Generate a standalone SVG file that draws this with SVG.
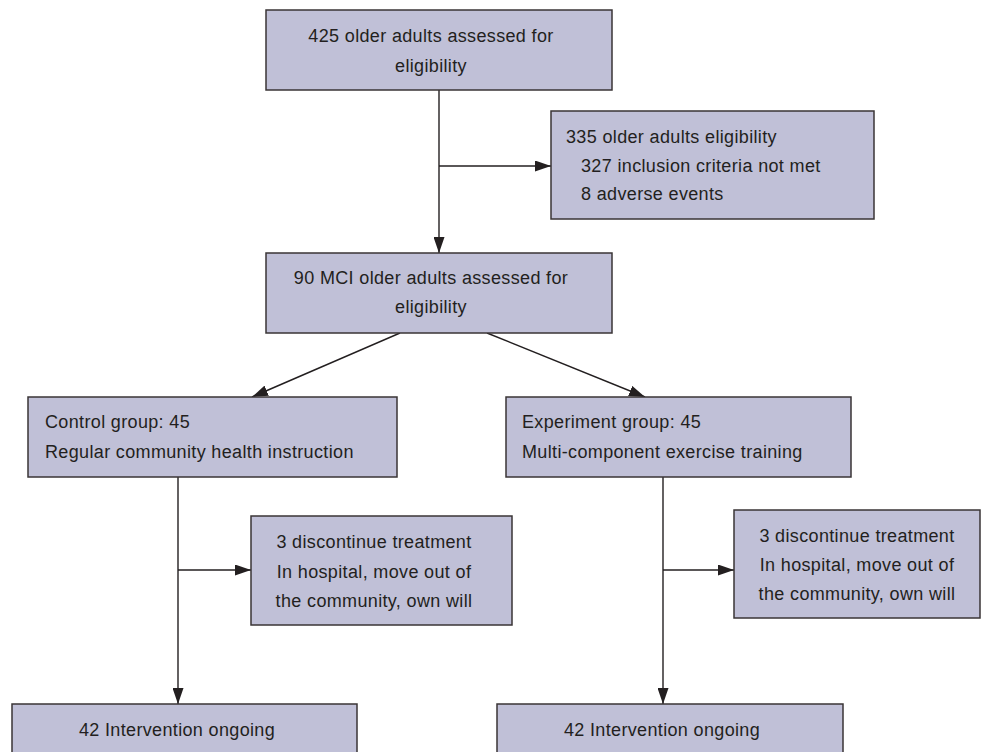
<svg xmlns="http://www.w3.org/2000/svg" width="982" height="752" viewBox="0 0 982 752">
<style>
.box{fill:#c0c0d7;stroke:#3a3536;stroke-width:1.5}
.t{font-family:"Liberation Sans",Arial,sans-serif;font-size:18px;letter-spacing:0.35px;fill:#231f20}
.m{text-anchor:middle}
.ln{stroke:#231f20;stroke-width:1.4;fill:none}
</style>
<defs>
<marker id="ah" markerUnits="userSpaceOnUse" markerWidth="16" markerHeight="11" refX="16" refY="5.5" orient="auto">
<path d="M0,0 L16,5.5 L0,11 z" fill="#231f20"/>
</marker>
</defs>
<rect width="982" height="752" fill="#ffffff"/>
<g id="connectors">
<line class="ln" x1="439" y1="90" x2="439" y2="253" marker-end="url(#ah)"/>
<line class="ln" x1="439" y1="166" x2="551" y2="166" marker-end="url(#ah)"/>
<line class="ln" x1="400" y1="333" x2="252" y2="397" marker-end="url(#ah)"/>
<line class="ln" x1="487" y1="333" x2="645" y2="397" marker-end="url(#ah)"/>
<line class="ln" x1="178" y1="477" x2="178" y2="704" marker-end="url(#ah)"/>
<line class="ln" x1="178" y1="570" x2="251" y2="570" marker-end="url(#ah)"/>
<line class="ln" x1="663" y1="477" x2="663" y2="704" marker-end="url(#ah)"/>
<line class="ln" x1="663" y1="570" x2="734" y2="570" marker-end="url(#ah)"/>
</g>
<g id="n425">
<rect class="box" x="266" y="10" width="346" height="80"/>
<text class="t m" x="431" y="42">425 older adults assessed for</text>
<text class="t m" x="431" y="72">eligibility</text>
</g>
<g id="n335">
<rect class="box" x="551" y="111" width="323" height="108"/>
<text class="t" x="566" y="143">335 older adults eligibility</text>
<text class="t" x="581" y="172">327 inclusion criteria not met</text>
<text class="t" x="581" y="200">8 adverse events</text>
</g>
<g id="n90">
<rect class="box" x="266" y="253" width="346" height="80"/>
<text class="t m" x="431" y="284">90 MCI older adults assessed for</text>
<text class="t m" x="431" y="313">eligibility</text>
</g>
<g id="control">
<rect class="box" x="28" y="397" width="369" height="80"/>
<text class="t" x="45" y="428">Control group: 45</text>
<text class="t" x="45" y="458">Regular community health instruction</text>
</g>
<g id="experiment">
<rect class="box" x="506" y="397" width="345" height="80"/>
<text class="t" x="522" y="428">Experiment group: 45</text>
<text class="t" x="522" y="458">Multi-component exercise training</text>
</g>
<g id="discL">
<rect class="box" x="251" y="516" width="261" height="109"/>
<text class="t m" x="374" y="548">3 discontinue treatment</text>
<text class="t m" x="374" y="578">In hospital, move out of</text>
<text class="t m" x="374" y="607">the community, own will</text>
</g>
<g id="discR">
<rect class="box" x="734" y="510" width="246" height="108"/>
<text class="t m" x="857" y="542">3 discontinue treatment</text>
<text class="t m" x="857" y="571">In hospital, move out of</text>
<text class="t m" x="857" y="600">the community, own will</text>
</g>
<g id="ongoingL">
<rect class="box" x="12" y="704" width="345" height="60"/>
<text class="t m" x="177" y="736">42 Intervention ongoing</text>
</g>
<g id="ongoingR">
<rect class="box" x="497" y="704" width="346" height="60"/>
<text class="t m" x="662" y="736">42 Intervention ongoing</text>
</g>
</svg>
